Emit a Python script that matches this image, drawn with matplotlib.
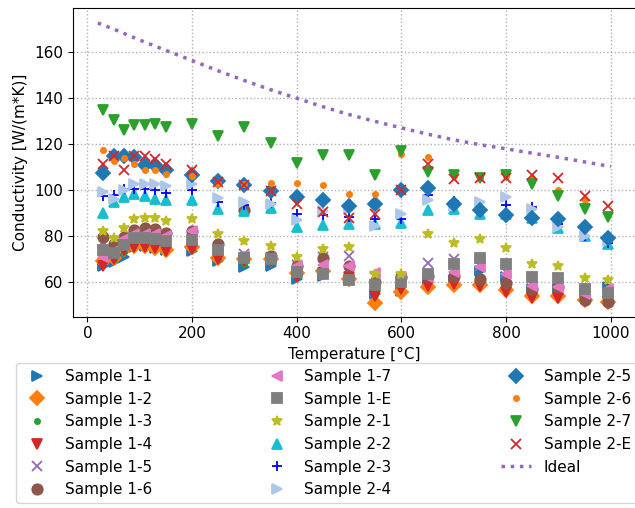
import matplotlib
matplotlib.use("Agg")
import matplotlib.pyplot as plt

# Measurement temperatures [°C]
temperature = [30, 50, 70, 90, 110, 130, 150, 200, 250, 300, 350, 400, 450, 500,
               550, 600, 650, 700, 750, 800, 850, 900, 950, 995]

# Thermal conductivity [W/(m*K)] per sample
s1_1 = [67.0, 68.5, 71.0, 75.0, 75.5, 74.7, 73.8, 73.5, 69.2, 66.3, 67.0, 61.3, 62.7, 61.0,
        54.8, 56.2, 60.0, 61.0, 64.9, 62.0, 57.0, 57.0, 55.0, 57.7]
s1_2 = [69.0, 70.6, 74.3, 75.7, 75.7, 74.7, 73.8, 75.0, 70.6, 69.9, 69.9, 63.7, 64.6, 61.5,
        50.7, 55.5, 58.0, 58.8, 58.8, 56.5, 54.0, 54.0, 52.0, 51.2]
s1_3 = [68.5, 70.0, 73.0, 76.0, 76.0, 75.5, 74.5, 74.5, 70.0, 68.0, 68.5, 62.5, 63.5, 62.0,
        54.5, 58.0, 60.0, 61.5, 62.5, 62.0, 57.5, 57.0, 55.0, 56.5]
s1_4 = [67.0, 70.0, 74.0, 75.3, 75.0, 74.7, 73.5, 74.3, 70.2, 69.0, 69.0, 62.0, 64.0, 62.0,
        54.0, 57.0, 58.4, 59.1, 58.4, 55.5, 53.0, 53.0, 53.0, 52.0]
s1_5 = [77.5, 74.5, 78.0, 81.0, 81.5, 81.0, 80.0, 80.5, 75.0, 72.0, 71.0, 67.5, 71.0, 71.3,
        62.5, 61.5, 68.4, 70.0, 67.0, 64.5, 60.0, 60.0, 56.0, 55.0]
s1_6 = [79.6, 76.4, 79.6, 82.5, 83.3, 82.9, 81.5, 82.2, 76.4, 91.2, 71.4, 67.0, 70.6, 67.0,
        60.0, 62.0, 62.6, 62.6, 61.3, 59.4, 56.9, 57.7, 52.0, 51.2]
s1_7 = [71.0, 73.5, 78.6, 80.7, 81.0, 80.7, 80.0, 82.2, 74.0, 71.4, 70.6, 67.0, 67.5, 67.0,
        63.9, 62.0, 62.0, 64.2, 66.3, 63.4, 58.4, 57.7, 54.8, 56.9]
s1_e = [74.0, 72.4, 76.1, 79.0, 79.0, 78.6, 77.6, 78.2, 73.8, 70.6, 69.9, 64.2, 63.4, 61.0,
        58.8, 59.8, 63.4, 67.8, 70.6, 68.0, 62.3, 61.6, 56.9, 55.2]
s2_1 = [82.2, 79.0, 83.3, 87.2, 87.7, 87.7, 86.5, 87.2, 81.0, 77.6, 75.7, 70.9, 74.5, 75.0,
        63.4, 63.4, 80.7, 76.9, 78.6, 74.7, 67.8, 66.8, 61.6, 60.8]
s2_2 = [90.1, 94.9, 96.9, 98.4, 97.6, 96.2, 95.5, 95.5, 91.9, 90.9, 92.0, 83.9, 84.8, 85.4,
        85.0, 85.8, 91.1, 91.6, 89.4, 89.5, 88.0, 83.6, 80.0, 76.4]
s2_3 = [97.5, 97.8, 100.3, 100.4, 100.4, 100.0, 98.9, 100.1, 94.8, 93.3, 94.5, 89.7, 89.1, 88.3,
        87.2, 87.2, 97.8, 95.0, 91.0, 93.3, 92.6, 85.0, 80.0, 77.0]
s2_4 = [99.2, 95.9, 99.8, 102.7, 102.7, 102.7, 101.7, 102.4, 96.3, 94.9, 93.7, 86.8, 90.9, 91.6,
        84.4, 89.4, 95.5, 93.0, 94.9, 96.9, 91.6, 83.9, 80.0, 78.0]
s2_5 = [107.4, 114.7, 114.7, 114.2, 110.8, 110.8, 108.5, 106.7, 104.1, 102.1, 99.5, 96.8, 95.5, 93.0,
        93.7, 100.2, 101.0, 94.0, 91.3, 89.0, 88.0, 87.2, 84.1, 79.0]
s2_6 = [117.5, 112.8, 113.7, 111.3, 108.9, 108.9, 107.0, 106.0, 102.7, 102.4, 103.1, 103.1, 102.1, 98.1,
        98.1, 115.7, 114.5, 106.0, 105.3, 106.0, 105.3, 100.0, 95.8, 89.0]
s2_7 = [134.9, 130.5, 126.2, 128.4, 128.1, 128.7, 127.6, 128.7, 123.3, 127.5, 120.4, 111.8, 115.1, 115.1,
        106.3, 117.1, 107.9, 106.7, 105.0, 106.7, 102.4, 97.3, 91.6, 88.3]
s2_e = [111.3, 114.7, 108.5, 114.7, 114.7, 113.5, 111.1, 108.9, 103.5, 102.1, 99.5, 93.7, 90.6, 88.0,
        89.4, 100.2, 111.1, 104.6, 105.0, 105.3, 106.3, 105.3, 97.3, 93.0]

# Ideal conductivity curve
ideal_temperature = [20, 50, 100, 150, 200, 250, 300, 350, 400, 450, 500, 550, 600, 650,
                     700, 750, 800, 850, 900, 950, 1000]
ideal_k = [172.6, 170.0, 165.2, 160.7, 156.3, 151.8, 147.6, 143.6, 139.9, 136.2, 132.8, 129.8,
           127.0, 124.3, 121.8, 119.7, 117.9, 116.0, 114.2, 112.2, 110.2]

labels = ["Sample 1-1", "Sample 1-2", "Sample 1-3", "Sample 1-4", "Sample 1-5", "Sample 1-6",
          "Sample 1-7", "Sample 1-E", "Sample 2-1", "Sample 2-2", "Sample 2-3", "Sample 2-4",
          "Sample 2-5", "Sample 2-6", "Sample 2-7", "Sample 2-E"]
series = [s1_1, s1_2, s1_3, s1_4, s1_5, s1_6, s1_7, s1_e,
          s2_1, s2_2, s2_3, s2_4, s2_5, s2_6, s2_7, s2_e]

markers = [">", "D", ".", "v", "x", "o", "<", "s", "*", "^", "+", ">", "D", ".", "v", "x"]
colors = ["tab:blue", "tab:orange", "tab:green", "tab:red", "tab:purple", "tab:brown",
          "tab:pink", "tab:gray", "tab:olive", "tab:cyan", "blue", "#aec7e8",
          "tab:blue", "tab:orange", "tab:green", "tab:red"]

plt.rcParams["font.family"] = ["DejaVu Sans"]
plt.rcParams["font.size"] = 11

W, H = 635, 508
fig = plt.figure(figsize=(W / 100, H / 100), dpi=100)
ax = fig.add_axes([72.7 / W, 1 - 316.7 / H, (636.4 - 72.7) / W, (316.7 - 8.3) / H])

handles = []
for y, lab, m, c in zip(series, labels, markers, colors):
    h, = ax.plot(temperature, y, linestyle="none", marker=m, color=c,
                 markersize=7.5, markeredgewidth=1.3, label=lab)
    handles.append(h)

h, = ax.plot(ideal_temperature, ideal_k, linestyle=":", color="tab:purple",
             linewidth=2.5, label="Ideal")
handles.append(h)

ax.set_xlim(-28, 1049)
ax.set_ylim(44.9, 179.0)
ax.set_xticks([0, 200, 400, 600, 800, 1000])
ax.set_yticks([60, 80, 100, 120, 140, 160])
ax.grid(True, linestyle=":", color="#b0b0b0", linewidth=1.0)
ax.set_axisbelow(True)
ax.set_xlabel("Temperature [°C]")
ax.set_ylabel("Conductivity [W/(m*K)]")

fig.legend(handles=handles, loc="upper left", ncol=3, mode="expand",
           bbox_to_anchor=(16 / W, 0, 621 / W, 1 - 363 / H), borderaxespad=0)

fig.savefig("out.png", dpi=100)
